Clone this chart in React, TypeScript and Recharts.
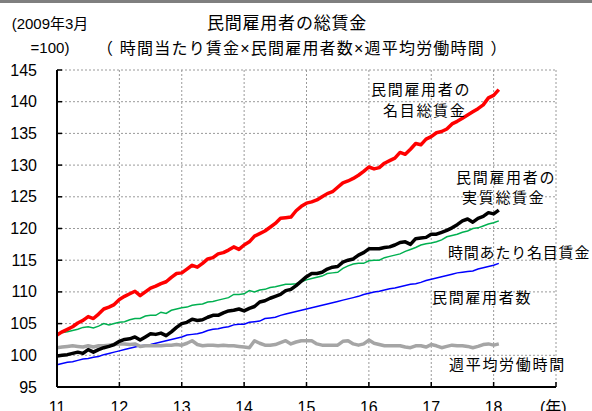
import React from 'react';
import { LineChart, Line, XAxis, YAxis, CartesianGrid } from 'recharts';

const yearLabels = ['11', '12', '13', '14', '15', '16', '17', '18', ''];
const yTicks = [95, 100, 105, 110, 115, 120, 125, 130, 135, 140, 145];

// Monthly, Jan 2011 .. Feb 2018 (2009/3 = 100)
const nominalTotal = [
  103.2, 103.7, 104.1, 104.5, 105.1, 105.5, 106.1, 105.8, 106.5, 107.3, 107.6, 108.0,
  108.8, 109.3, 109.7, 110.1, 109.4, 110.0, 110.6, 110.9, 111.3, 111.6, 112.3, 112.9,
  113.0, 113.6, 114.2, 113.9, 114.5, 115.2, 115.4, 116.0, 116.2, 116.6, 117.1, 116.7,
  117.4, 117.9, 118.8, 119.2, 119.6, 120.2, 120.8, 121.6, 121.7, 121.8, 122.8, 123.5,
  124.0, 124.2, 124.5, 125.0, 125.5, 125.8, 126.5, 127.2, 127.5, 127.9, 128.4, 129.0,
  129.7, 129.4, 129.6, 130.3, 130.7, 131.1, 132.0, 131.7, 132.5, 133.4, 133.2, 134.1,
  134.5, 135.1, 135.3, 135.7, 136.5, 136.9, 137.4, 137.9, 138.4, 138.9, 139.5, 140.6,
  141.0, 141.9,
];
const realTotal = [
  99.9, 100.0, 100.1, 100.3, 100.5, 100.3, 100.9, 100.5, 100.9, 101.2, 101.4, 101.7,
  102.2, 102.5, 102.6, 102.9, 102.4, 102.9, 103.4, 103.3, 103.5, 103.1, 103.7, 104.4,
  105.0, 105.2, 105.7, 105.5, 105.6, 106.0, 106.3, 106.3, 106.7, 107.0, 107.1, 107.3,
  107.0, 107.4, 107.7, 108.4, 108.6, 109.0, 109.3, 109.6, 110.2, 110.4, 111.0, 111.7,
  112.4, 112.9, 112.9, 113.1, 113.6, 113.9, 114.0, 114.7, 115.0, 115.2, 115.8, 116.2,
  116.8, 116.8, 116.8, 117.0, 117.1, 117.4, 117.8, 117.9, 117.5, 118.4, 118.5, 118.6,
  119.1, 119.1, 119.4, 119.7, 120.1, 120.6, 121.2, 121.5, 121.0, 121.6, 121.9, 122.5,
  122.3, 122.9,
];
const hourlyWage = [
  103.5, 103.6, 103.7, 103.9, 104.1, 104.4, 104.5, 104.3, 104.6, 105.0, 104.8, 105.0,
  105.2, 105.3, 105.6, 105.8, 105.8, 106.2, 106.3, 106.3, 106.8, 106.6, 107.1, 107.3,
  107.5, 107.6, 107.9, 108.0, 108.1, 108.4, 108.5, 108.7, 108.9, 109.1, 109.6, 109.6,
  109.7, 110.2, 110.0, 110.3, 110.4, 110.7, 110.8, 111.0, 111.2, 111.2, 111.3, 111.6,
  111.9, 112.1, 112.3, 112.5, 112.9, 113.0, 113.1, 113.7, 114.1, 114.4, 114.5, 114.5,
  114.9, 115.0, 115.0, 115.4, 115.6, 115.8, 116.0, 116.4, 116.7, 117.0, 117.4, 117.6,
  117.7, 117.9, 118.2, 118.7, 118.9, 119.1, 119.4, 119.6, 120.0, 120.1, 120.4, 120.7,
  120.9, 121.2,
];
const employees = [
  98.5, 98.7, 98.9, 99.0, 99.2, 99.4, 99.5, 99.7, 99.8, 100.1, 100.3, 100.5,
  100.7, 100.9, 101.1, 101.3, 101.5, 101.6, 101.7, 101.9, 102.1, 102.3, 102.5, 102.7,
  102.9, 103.2, 103.3, 103.4, 103.6, 103.9, 104.1, 104.2, 104.4, 104.5, 104.8, 104.9,
  104.9, 105.2, 105.3, 105.4, 105.8, 105.9, 106.0, 106.3, 106.5, 106.7, 106.9, 107.1,
  107.3, 107.5, 107.7, 107.9, 108.1, 108.3, 108.5, 108.7, 108.9, 109.1, 109.3, 109.6,
  109.8, 110.0, 110.1, 110.3, 110.5, 110.6, 110.8, 111.0, 111.2, 111.3, 111.5, 111.8,
  112.0, 112.2, 112.4, 112.6, 112.8, 113.0, 113.1, 113.2, 113.3, 113.6, 113.8, 114.0,
  114.2, 114.5,
];
const weeklyHours = [
  101.2, 101.3, 101.4, 101.5, 101.4, 101.3, 101.5, 101.3, 101.5, 101.5, 101.6, 101.7,
  101.8, 101.8, 101.7, 101.8, 101.4, 101.5, 101.5, 101.5, 101.5, 101.6, 101.6, 101.7,
  101.6, 101.9, 102.3, 101.7, 101.5, 101.6, 101.6, 101.5, 101.6, 101.5, 101.5, 101.4,
  101.3, 101.2, 102.3, 101.9, 101.6, 101.6, 101.7, 102.0, 102.3, 101.8, 102.1, 102.3,
  102.3, 102.3, 101.8, 101.6, 101.6, 101.6, 101.6, 102.2, 102.3, 101.8, 101.6, 101.8,
  102.4, 101.9, 101.7, 101.5, 101.5, 101.5, 101.5, 101.3, 101.2, 101.5, 101.5, 101.3,
  101.7, 101.5, 101.2, 101.4, 101.6, 101.5, 101.5, 101.4, 101.2, 101.4, 101.7, 101.8,
  101.6, 101.8,
];

const data = nominalTotal.map((v, i) => ({
  m: i,
  nominal: v,
  real: realTotal[i],
  hourly: hourlyWage[i],
  emp: employees[i],
  hours: weeklyHours[i],
}));

const FONT = '"Liberation Sans", Arial, "Noto Sans CJK JP", sans-serif';

const YTick = (props: any) => {
  const { x, y, payload } = props;
  return (
    <g>
      <line x1={x + 20} x2={x + 25} y1={y} y2={y} stroke="#000" strokeWidth={1.5} />
      <text x={x} y={y} textAnchor="end" dominantBaseline="central" fontSize={16} fontFamily={FONT} fill="#000">
        {payload.value}
      </text>
    </g>
  );
};

const XTick = (props: any) => {
  const { x, y, payload } = props;
  const idx = Math.round(payload.value / 12);
  return (
    <g>
      <line x1={x} x2={x} y1={y - 15} y2={y - 20} stroke="#000" strokeWidth={1.5} />
      <text x={x} y={y} dy="0.71em" textAnchor="middle" fontSize={16} fontFamily={FONT} fill="#000">
        {yearLabels[idx]}
      </text>
    </g>
  );
};

const xTicks = yearLabels.map((_, i) => i * 12);

export default function App() {
  const labelStyle = { fontFamily: FONT, fill: '#000' } as const;
  return (
    <div style={{ position: 'absolute', left: 0, top: 0, width: 592, height: 411, overflow: 'hidden', background: '#fff' }}>
      <div style={{ position: 'absolute', left: 0, top: 0, width: 592, height: 3, background: '#7f7f7f' }} />
      <LineChart width={592} height={411} data={data} margin={{ top: 70, right: 36, bottom: 0, left: 7 }}>
        <CartesianGrid stroke="#9a9a9a" strokeDasharray="2 2" />
        <XAxis
          dataKey="m"
          type="number"
          domain={[0, 96]}
          ticks={xTicks}
          interval={0}
          height={24}
          tickSize={0}
          tickMargin={15}
          tick={<XTick />}
          axisLine={{ stroke: '#000', strokeWidth: 2 }}
          tickLine={false}
        />
        <YAxis
          type="number"
          domain={[95, 145]}
          ticks={yTicks}
          interval={0}
          width={50}
          tickSize={0}
          tickMargin={20}
          tick={<YTick />}
          axisLine={{ stroke: '#000', strokeWidth: 2 }}
          tickLine={false}
        />
        <Line type="linear" dataKey="emp" stroke="#0000ff" strokeWidth={1.5} dot={false} isAnimationActive={false} />
        <Line type="linear" dataKey="hourly" stroke="#00b050" strokeWidth={1.5} dot={false} isAnimationActive={false} />
        <Line type="linear" dataKey="hours" stroke="#a5a5a5" strokeWidth={3.5} dot={false} isAnimationActive={false} strokeLinejoin="round" />
        <Line type="linear" dataKey="real" stroke="#000000" strokeWidth={3.5} dot={false} isAnimationActive={false} strokeLinejoin="round" />
        <Line type="linear" dataKey="nominal" stroke="#ff0000" strokeWidth={3.5} dot={false} isAnimationActive={false} strokeLinejoin="round" />
      </LineChart>
      <svg width={592} height={411} style={{ position: 'absolute', left: 0, top: 0, pointerEvents: 'none' }}>
        <text x={287} y={23} textAnchor="middle" dominantBaseline="central" fontSize={17} letterSpacing={0.8} {...labelStyle}>
          民間雇用者の総賃金
        </text>
        <text x={97} y={48} textAnchor="start" dominantBaseline="central" fontSize={16} letterSpacing={1.2} {...labelStyle}>
          （ 時間当たり賃金×民間雇用者数×週平均労働時間 ）
        </text>
        <text x={50} y={23} textAnchor="middle" dominantBaseline="central" fontSize={15} {...labelStyle}>
          (2009年3月
        </text>
        <text x={50} y={47} textAnchor="middle" dominantBaseline="central" fontSize={15} {...labelStyle}>
          =100)
        </text>
        <text x={371} y={89} dominantBaseline="central" fontSize={15} letterSpacing={1.7} {...labelStyle}>
          民間雇用者の
        </text>
        <text x={383} y={110} dominantBaseline="central" fontSize={15} letterSpacing={1.7} {...labelStyle}>
          名目総賃金
        </text>
        <text x={456} y={177} dominantBaseline="central" fontSize={15} letterSpacing={1.7} {...labelStyle}>
          民間雇用者の
        </text>
        <text x={462} y={197} dominantBaseline="central" fontSize={15} letterSpacing={1.7} {...labelStyle}>
          実質総賃金
        </text>
        <text x={448} y={252} dominantBaseline="central" fontSize={15} letterSpacing={0.8} {...labelStyle}>
          時間あたり名目賃金
        </text>
        <text x={432} y={297} dominantBaseline="central" fontSize={15} letterSpacing={1.7} {...labelStyle}>
          民間雇用者数
        </text>
        <text x={449} y={364} dominantBaseline="central" fontSize={15} letterSpacing={1.7} {...labelStyle}>
          週平均労働時間
        </text>
        <text x={540} y={402} dy="0.71em" fontSize={16} {...labelStyle}>
          (年)
        </text>
      </svg>
    </div>
  );
}
